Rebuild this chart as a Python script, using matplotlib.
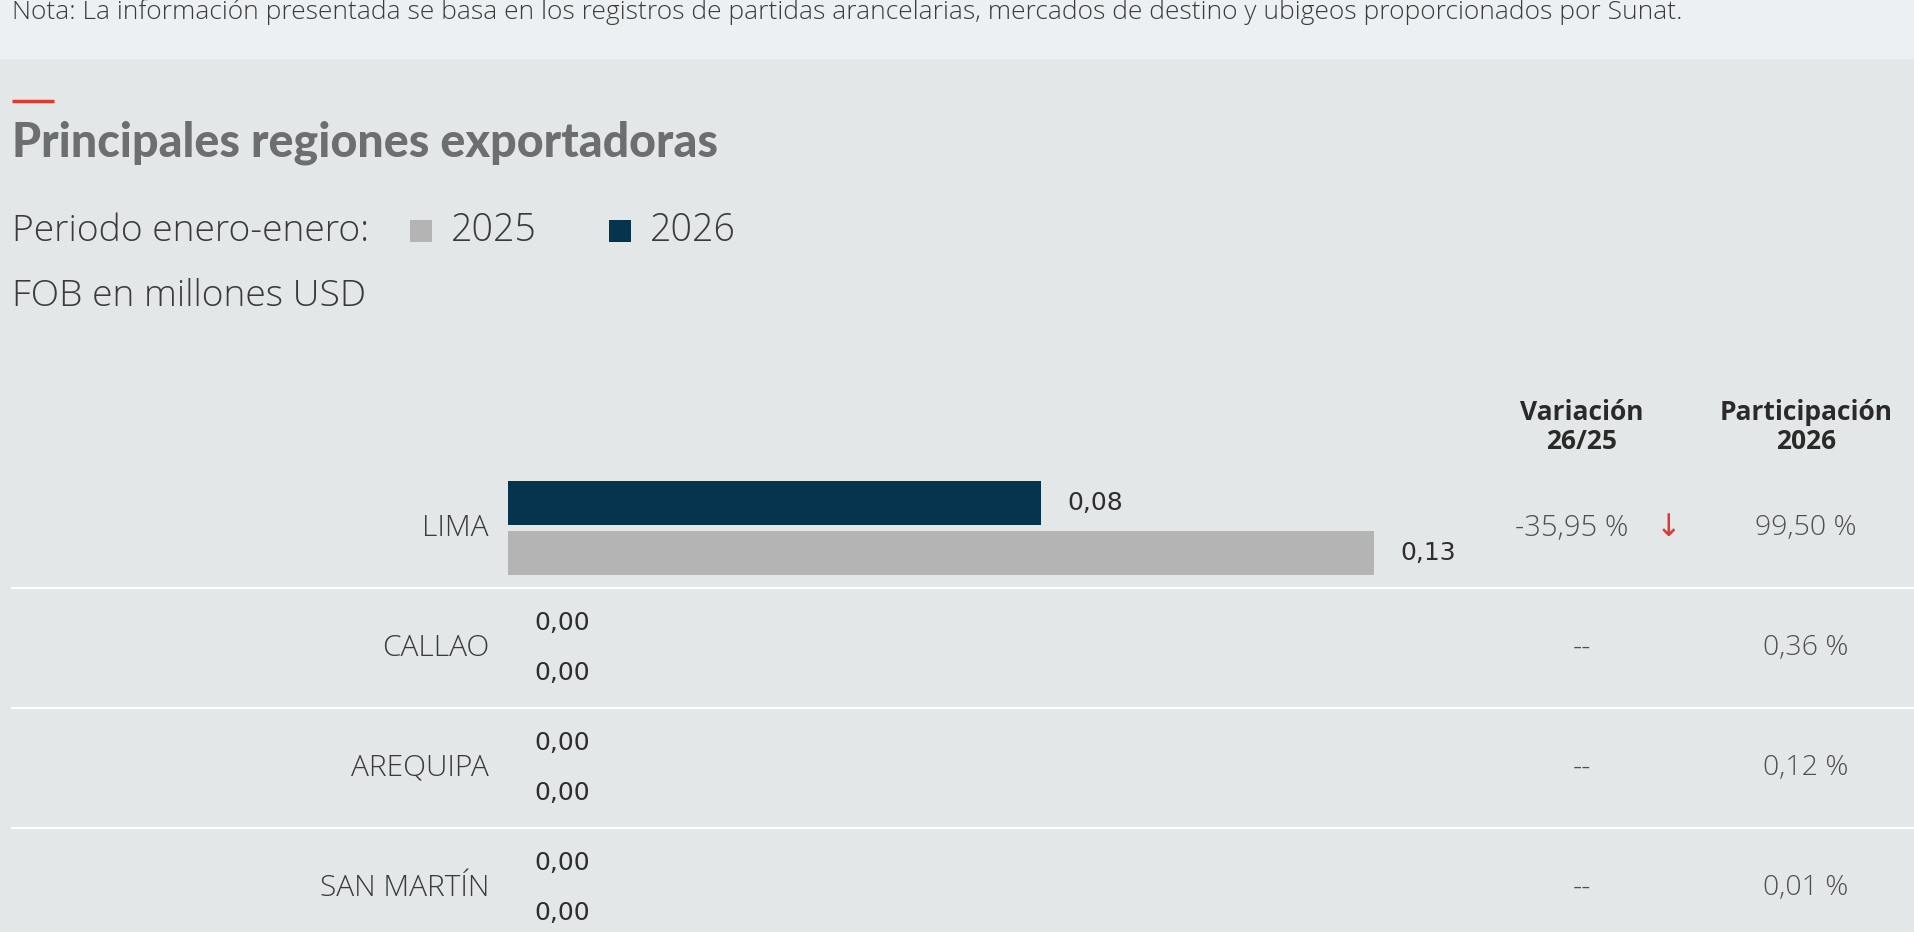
import numpy as np
import matplotlib.pyplot as plt
from matplotlib.patches import Rectangle
from matplotlib.lines import Line2D

W, H = 1915, 932

BG = "#e4e7e8"
BAND = "#ecf0f2"
NAVY = "#06344f"
GREY_BAR = "#b4b4b4"
RED = "#e03a2f"
TITLE_GREY = "#6d6e71"
TEXT = "#3b3b3b"
VAL_TEXT = "#505050"

# data
regions = ["LIMA", "CALLAO", "AREQUIPA", "SAN MARTÍN"]
fob_2025 = [0.13, 0.00, 0.00, 0.00]
fob_2026 = [0.08, 0.00, 0.00, 0.00]
variacion = ["-35,95 %", "--", "--", "--"]
tendencia = ["down", None, None, None]
participacion = ["99,50 %", "0,36 %", "0,12 %", "0,01 %"]
years = ["2025", "2026"]

nota = ("Nota: La información presentada se basa en los registros de partidas arancelarias, "
        "mercados de destino y ubigeos proporcionados por Sunat.")

LIGHT = ["Open Sans", "DejaVu Sans"]
NARROW = ["Liberation Sans Narrow", "DejaVu Sans"]


def fx(px):
    return px / W


def fy(py):
    return 1 - py / H


def fmt(v):
    return ("%.2f" % v).replace(".", ",")


fig = plt.figure(figsize=(W / 100, H / 100), dpi=100, facecolor=BG)

# top band with the note
fig.add_artist(Rectangle((0, fy(59)), 1, 59 / H, transform=fig.transFigure,
                         facecolor=BAND, edgecolor="none", zorder=0))
fig.text(fx(12), fy(12), nota, fontsize=19, family=LIGHT, weight="light",
         color=TEXT, va="center", ha="left")

# red accent + title
fig.add_artist(Line2D([fx(12), fx(54)], [fy(101), fy(101)], transform=fig.transFigure,
                      color=RED, lw=2.5, solid_capstyle="butt"))
fig.text(fx(12), fy(143), "Principales regiones exportadoras", fontsize=33.5,
         family=["Lato", "DejaVu Sans"], weight="black", color=TITLE_GREY,
         va="center", ha="left")

# legend row
fig.text(fx(12), fy(231), "Periodo enero-enero:", fontsize=26.8, family=LIGHT,
         weight="light", color=TEXT, va="center", ha="left")
for sq_x, col, yr in [(410, GREY_BAR, years[0]), (609, NAVY, years[1])]:
    fig.add_artist(Rectangle((fx(sq_x), fy(242)), 22 / W, 22 / H, transform=fig.transFigure,
                             facecolor=col, edgecolor="none"))
    fig.text(fx(sq_x + 41), fy(231), yr, fontsize=27, family=LIGHT, weight="light",
             color=TEXT, va="center", ha="left")
fig.text(fx(12), fy(296), "FOB en millones USD", fontsize=26.8, family=LIGHT,
         weight="light", color=TEXT, va="center", ha="left")

# bar area: one axes over the whole figure, x in millions USD, y in rows
ax = fig.add_axes([0, 0, 1, 1])
ax.set_facecolor("none")
x0_px, bar_px = 508, 866
k = max(fob_2025) / bar_px
ax.set_xlim(-x0_px * k, (W - x0_px) * k)
row_px, row0_px = 120, 528
ax.set_ylim((H - row0_px) / row_px, -row0_px / row_px)
ax.axis("off")

y = np.arange(len(regions))
off = 25 / row_px
hgt = 44 / row_px
ax.barh(y - off, fob_2026, height=hgt, color=NAVY)
ax.barh(y + off, fob_2025, height=hgt, color=GREY_BAR)

for i in range(len(regions)):
    for v, yy in [(fob_2026[i], y[i] - off), (fob_2025[i], y[i] + off)]:
        ax.annotate(fmt(v), (v, yy), xytext=(19, 0), textcoords="offset points",
                    fontsize=18, family=NARROW, color="#2e2e2e", va="center", ha="left")

tr = ax.get_yaxis_transform()
for i, name in enumerate(regions):
    ax.text(fx(489), y[i], name, transform=tr, fontsize=21.5, family=LIGHT, weight="light",
            color=TEXT, va="center", ha="right")
    if tendencia[i] == "down":
        ax.text(fx(1572), y[i], variacion[i], transform=tr, fontsize=21, family=LIGHT,
                weight="light", color=VAL_TEXT, va="center", ha="center")
        ax.text(fx(1669), y[i], "↓", transform=tr, fontsize=22, family="DejaVu Sans",
                color=RED, va="center", ha="center")
    else:
        ax.text(fx(1582), y[i], variacion[i], transform=tr, fontsize=21, family=LIGHT,
                weight="light", color=VAL_TEXT, va="center", ha="center")
    ax.text(fx(1806), y[i], participacion[i], transform=tr, fontsize=20.5, family=LIGHT,
            weight="light", color=VAL_TEXT, va="center", ha="center")

# separators between rows
for i in range(len(regions) - 1):
    ax.axhline(y[i] + 0.5, xmin=fx(12), xmax=1, color="white", lw=1.6)

# column headers
for cx, lines in [(1582, ["Variación", "26/25"]), (1806, ["Participación", "2026"])]:
    fig.text(fx(cx), fy(412), lines[0], fontsize=19, family=["Open Sans", "DejaVu Sans"],
             weight="bold", color="#2a2a2a", va="center", ha="center")
    fig.text(fx(cx), fy(442), lines[1], fontsize=19, family=["Open Sans", "DejaVu Sans"],
             weight="bold", color="#2a2a2a", va="center", ha="center")

plt.savefig("out.png", dpi=100, facecolor=BG)
